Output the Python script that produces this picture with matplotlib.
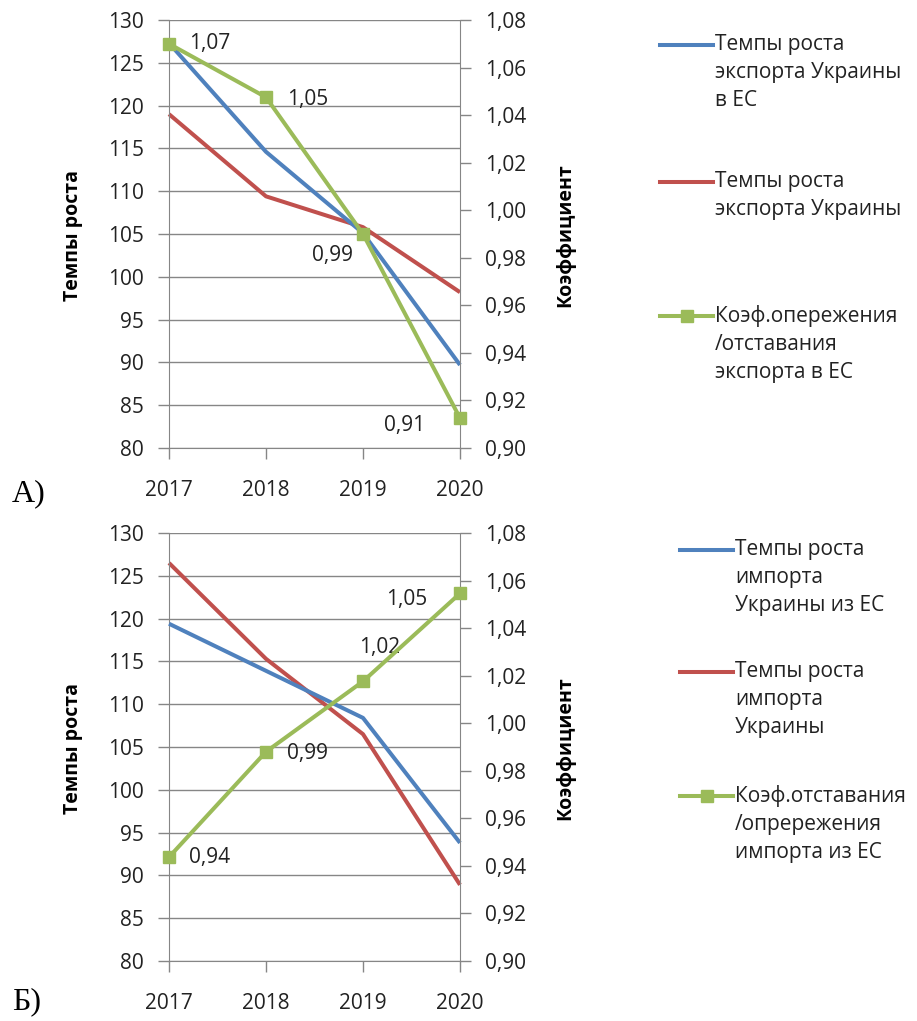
import matplotlib
matplotlib.use("Agg")
import matplotlib.pyplot as plt
from matplotlib.lines import Line2D

plt.rcParams['font.family'] = ['Open Sans', 'DejaVu Sans']

# data
years = [2017, 2018, 2019, 2020]

# panel A (export)
exp_eu = [127.3, 114.6, 105.1, 89.7]
exp_total = [119.0, 109.4, 105.8, 98.2]
exp_coef = [1.070, 1.0475, 0.990, 0.9126]
exp_coef_labels = ["1,07", "1,05", "0,99", "0,91"]
exp_legend = ["Темпы роста\nэкспорта Украины\nв ЕС",
              "Темпы роста\nэкспорта Украины",
              "Коэф.опережения\n/отставания\nэкспорта в ЕС"]

# panel B (import)
imp_eu = [119.4, 113.9, 108.4, 93.8]
imp_total = [126.5, 115.3, 106.5, 88.9]
imp_coef = [0.9437, 0.988, 1.0176, 1.0546]
imp_coef_labels = ["0,94", "0,99", "1,02", "1,05"]
imp_legend = ["Темпы роста\nимпорта\nУкраины из ЕС",
              "Темпы роста\nимпорта\nУкраины",
              "Коэф.отставания\n/опрережения\nимпорта из ЕС"]

left_ticks = list(range(80, 131, 5))
right_ticks = [0.90, 0.92, 0.94, 0.96, 0.98, 1.00, 1.02, 1.04, 1.06, 1.08]

BLUE = "#4F81BD"
RED = "#C0504D"
GREEN = "#9BBB59"
GRID = "#868686"
TXT = "#222222"
FS = 15

W, H = 917, 1021
fig = plt.figure(figsize=(W / 100, H / 100), dpi=100)


def fx(px):
    return px / W


def fy(py):
    return 1 - py / H


def comma(v, nd):
    return f"{v:.{nd}f}".replace(".", ",")


def panel(top_px, s1, s2, coef, coef_labels, offsets, legend_labels, leg_x, leg_rows, letter, letter_y):
    ax = fig.add_axes([fx(169), fy(top_px + 428), fx(291), 428 / H])
    ax2 = ax.twinx()

    ax.plot(years, s1, color=BLUE, lw=2.9, solid_capstyle='butt', clip_on=False, zorder=3)
    ax.plot(years, s2, color=RED, lw=2.9, solid_capstyle='butt', clip_on=False, zorder=2)
    ax2.plot(years, coef, color=GREEN, lw=2.9, marker='s', ms=9, clip_on=False, zorder=4)

    for x, y, lab, (dx, dy, ha) in zip(years, coef, coef_labels, offsets):
        ax2.annotate(lab, (x, y), xytext=(dx, dy), textcoords='offset pixels',
                     ha=ha, va='center', fontsize=FS, color=TXT)

    ax.set_xlim(2017, 2020)
    ax.set_ylim(80, 130)
    ax2.set_ylim(0.90, 1.08)
    ax.set_xticks(years)
    ax.set_xticklabels([str(y) for y in years])
    ax.set_yticks(left_ticks)
    ax.set_yticklabels([str(t) for t in left_ticks])
    ax2.set_yticks(right_ticks)
    ax2.set_yticklabels([comma(t, 2) for t in right_ticks])
    ax.yaxis.grid(True, color=GRID, lw=1)
    ax.set_axisbelow(True)

    for a in (ax, ax2):
        for s in a.spines.values():
            s.set_visible(False)
        a.tick_params(colors=GRID, labelcolor=TXT, labelsize=FS, length=8, width=1)
    ax.spines['left'].set_visible(True)
    ax.spines['left'].set_color(GRID)
    ax.spines['bottom'].set_visible(True)
    ax.spines['bottom'].set_color(GRID)
    ax2.spines['right'].set_visible(True)
    ax2.spines['right'].set_color(GRID)
    ax.tick_params(axis='x', pad=15)
    ax.tick_params(axis='y', pad=10)
    ax2.tick_params(axis='y', pad=10)

    fig.text(fx(73), fy(top_px + 215), "Темпы роста", rotation=90, ha='center', va='center',
             fontsize=FS - 1, fontweight='bold', color='black')
    fig.text(fx(565), fy(top_px + 215), "Коэффициент", rotation=90, ha='center', va='center',
             fontsize=FS - 1, fontweight='bold', color='black')

    # legend
    for lab, col, row, mk in zip(legend_labels, [BLUE, RED, GREEN], leg_rows, [False, False, True]):
        if mk:
            h = Line2D([fx(leg_x), fx(leg_x + 26.5), fx(leg_x + 53)], [fy(row)] * 3, color=col,
                       lw=2.9, marker='s', ms=9, markevery=[1], transform=fig.transFigure)
        else:
            h = Line2D([fx(leg_x), fx(leg_x + 53)], [fy(row), fy(row)], color=col, lw=2.9,
                       transform=fig.transFigure)
        fig.add_artist(h)
        fig.text(fx(leg_x + 55), fy(row - 11), lab, ha='left', va='top', fontsize=FS, color=TXT,
                 linespacing=1.45)

    fig.text(fx(12), fy(letter_y), letter, fontsize=23, family='Liberation Serif',
             ha='left', va='center', color='black')
    return ax


panel(20, exp_eu, exp_total, exp_coef, exp_coef_labels,
      [(20, 0, 'left'), (21, -2, 'left'), (-10, -21, 'right'), (-35, -7, 'right')],
      exp_legend, 660, [45, 182, 316], "А)", 494)
panel(533, imp_eu, imp_total, imp_coef, imp_coef_labels,
      [(20, 0, 'left'), (21, -2, 'left'), (-4, 34, 'left'), (-33, -6, 'right')],
      imp_legend, 680, [550, 672, 796], "Б)", 1002)

fig.savefig("out.png", dpi=100)
